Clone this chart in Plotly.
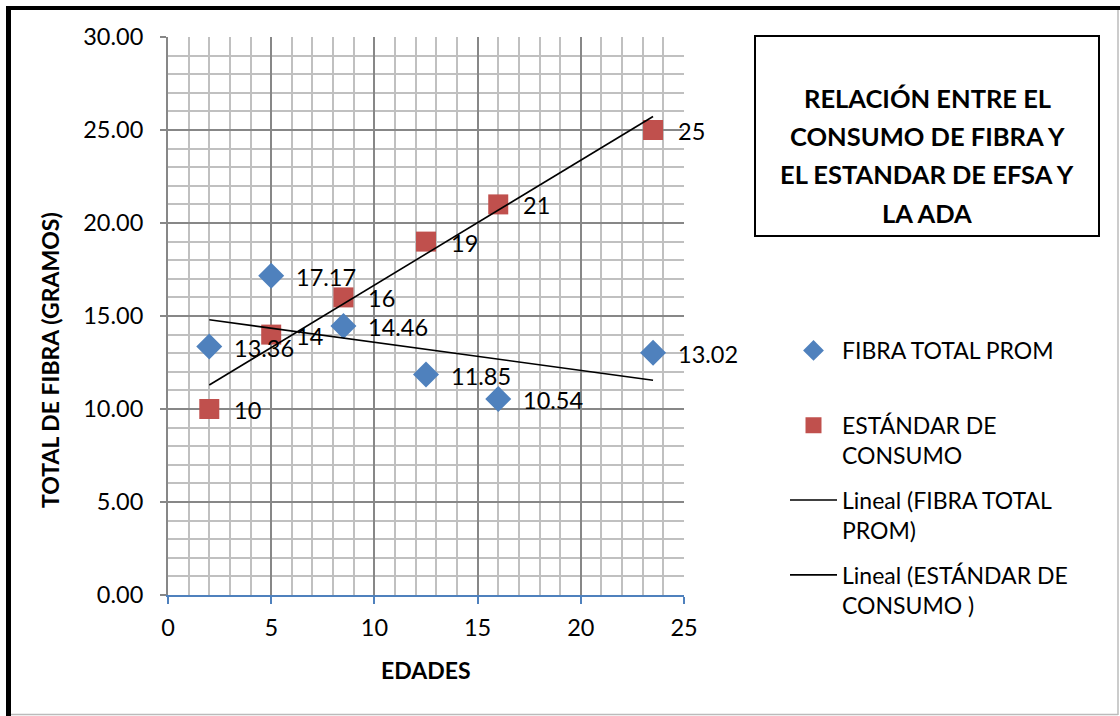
import numpy as np
import plotly.graph_objects as go

# ---- data ----
edades = [2, 5, 8.5, 12.5, 16, 23.5]
fibra_total_prom = [13.36, 17.17, 14.46, 11.85, 10.54, 13.02]
estandar_consumo = [10, 14, 16, 19, 21, 25]
fibra_labels = ["13.36", "17.17", "14.46", "11.85", "10.54", "13.02"]
estandar_labels = ["10", "14", "16", "19", "21", "25"]
title_lines = ["RELACIÓN ENTRE EL", "CONSUMO DE FIBRA Y", "EL ESTANDAR DE EFSA Y", "LA ADA"]

FONT = "Lato"
W, H = 1120, 716
L, R, T, B = 168, 684, 37, 595  # plot area in px


def px_x(px):
    return (px - L) / (R - L)


def px_y(py):
    return (B - py) / (B - T)


BLUE = "#4F81BD"
RED = "#C0504D"
TXT = 23.5

fig = go.Figure()

fig.add_trace(go.Scatter(
    x=edades, y=fibra_total_prom, mode="markers",
    name="FIBRA TOTAL PROM<br>\u00a0", legendgroup="a",
    marker=dict(symbol="diamond", size=20, color=BLUE),
))
fig.add_trace(go.Scatter(
    x=edades, y=estandar_consumo, mode="markers",
    name="ESTÁNDAR DE<br>CONSUMO", legendgroup="b",
    marker=dict(symbol="square", size=20, color=RED),
))

# linear trend lines (least squares)
xs = np.array([min(edades), max(edades)])
p1 = np.polyfit(edades, fibra_total_prom, 1)
p2 = np.polyfit(edades, estandar_consumo, 1)
fig.add_trace(go.Scatter(
    x=xs, y=np.polyval(p1, xs), mode="lines",
    name="Lineal (FIBRA TOTAL<br>PROM)", legendgroup="c",
    line=dict(color="black", width=1.6),
))
fig.add_trace(go.Scatter(
    x=xs, y=np.polyval(p2, xs), mode="lines",
    name="Lineal (ESTÁNDAR DE<br>CONSUMO )", legendgroup="d",
    line=dict(color="black", width=1.6),
))

annotations = []
for xv, yv, t in zip(edades, fibra_total_prom, fibra_labels):
    annotations.append(dict(x=xv, y=yv, text=t, xref="x", yref="y", showarrow=False,
                            xanchor="left", yanchor="middle", xshift=23, yshift=-1,
                            font=dict(family=FONT, size=TXT, color="black")))
for xv, yv, t in zip(edades, estandar_consumo, estandar_labels):
    annotations.append(dict(x=xv, y=yv, text=t, xref="x", yref="y", showarrow=False,
                            xanchor="left", yanchor="middle", xshift=23, yshift=-1,
                            font=dict(family=FONT, size=TXT, color="black")))

title_y = [98, 136, 174, 213]
for ty, t in zip(title_y, title_lines):
    annotations.append(dict(x=px_x(927), y=px_y(ty), xref="paper", yref="paper", text="<b>" + t + "</b>",
                            showarrow=False, xanchor="center", yanchor="middle",
                            font=dict(family=FONT, size=25.5, color="black")))

annotations.append(dict(x=px_x(50), y=px_y(360), xref="paper", yref="paper",
                        text="<b>TOTAL DE FIBRA (GRAMOS)</b>", textangle=-90, showarrow=False,
                        xanchor="center", yanchor="middle",
                        font=dict(family=FONT, size=23, color="black")))
annotations.append(dict(x=px_x(426), y=px_y(670), xref="paper", yref="paper",
                        text="<b>EDADES</b>", showarrow=False,
                        xanchor="center", yanchor="middle",
                        font=dict(family=FONT, size=23, color="black")))

shapes = [
    # outer frame
    dict(type="rect", xref="paper", yref="paper", x0=px_x(6), x1=px_x(11), y0=px_y(716), y1=px_y(6),
         fillcolor="black", line=dict(width=0)),
    dict(type="rect", xref="paper", yref="paper", x0=px_x(6), x1=px_x(1120), y0=px_y(10), y1=px_y(6),
         fillcolor="black", line=dict(width=0)),
    dict(type="line", xref="paper", yref="paper", x0=px_x(1118), x1=px_x(1118), y0=px_y(10), y1=px_y(715),
         line=dict(color="#BBBBBB", width=1.5)),
    dict(type="line", xref="paper", yref="paper", x0=px_x(11), x1=px_x(1118), y0=px_y(714.5), y1=px_y(714.5),
         line=dict(color="#BBBBBB", width=1.5)),
    # title box
    dict(type="rect", xref="paper", yref="paper", x0=px_x(755), x1=px_x(1099), y0=px_y(236), y1=px_y(36),
         line=dict(color="black", width=2)),
]

fig.update_layout(
    width=W, height=H,
    margin=dict(l=L, r=W - R, t=T, b=H - B, pad=0),
    paper_bgcolor="white", plot_bgcolor="white",
    font=dict(family=FONT, size=TXT, color="black"),
    showlegend=True,
    legend=dict(x=px_x(785), y=px_y(329), xanchor="left", yanchor="top",
                valign="top", traceorder="grouped", tracegroupgap=12,
                font=dict(family=FONT, size=23, color="black"),
                bgcolor="rgba(0,0,0,0)", itemwidth=47),
    annotations=annotations,
    shapes=shapes,
    xaxis=dict(range=[0, 25], dtick=5, tick0=0, showgrid=True, gridcolor="#878787", gridwidth=2,
               minor=dict(dtick=1, showgrid=True, gridcolor="#C0C0C0", gridwidth=2),
               showline=True, linecolor=BLUE, linewidth=2, zeroline=False,
               ticks="outside", tickcolor=BLUE, ticklen=7, tickwidth=2, ticklabelstandoff=4,
               tickfont=dict(family=FONT, size=TXT, color="black")),
    yaxis=dict(range=[0, 30], dtick=5, tick0=0, showgrid=True, gridcolor="#878787", gridwidth=2,
               minor=dict(dtick=1, showgrid=True, gridcolor="#C0C0C0", gridwidth=2),
               showline=True, linecolor="#878787", linewidth=2, zeroline=False,
               ticks="outside", tickcolor="#878787", ticklen=6, tickwidth=1.5, ticklabelstandoff=12,
               tickformat=".2f",
               tickfont=dict(family=FONT, size=TXT, color="black")),
)

fig.write_html("out.html", config={"displayModeBar": False},
               post_script="document.body.style.margin='0';document.body.style.overflow='hidden';")
